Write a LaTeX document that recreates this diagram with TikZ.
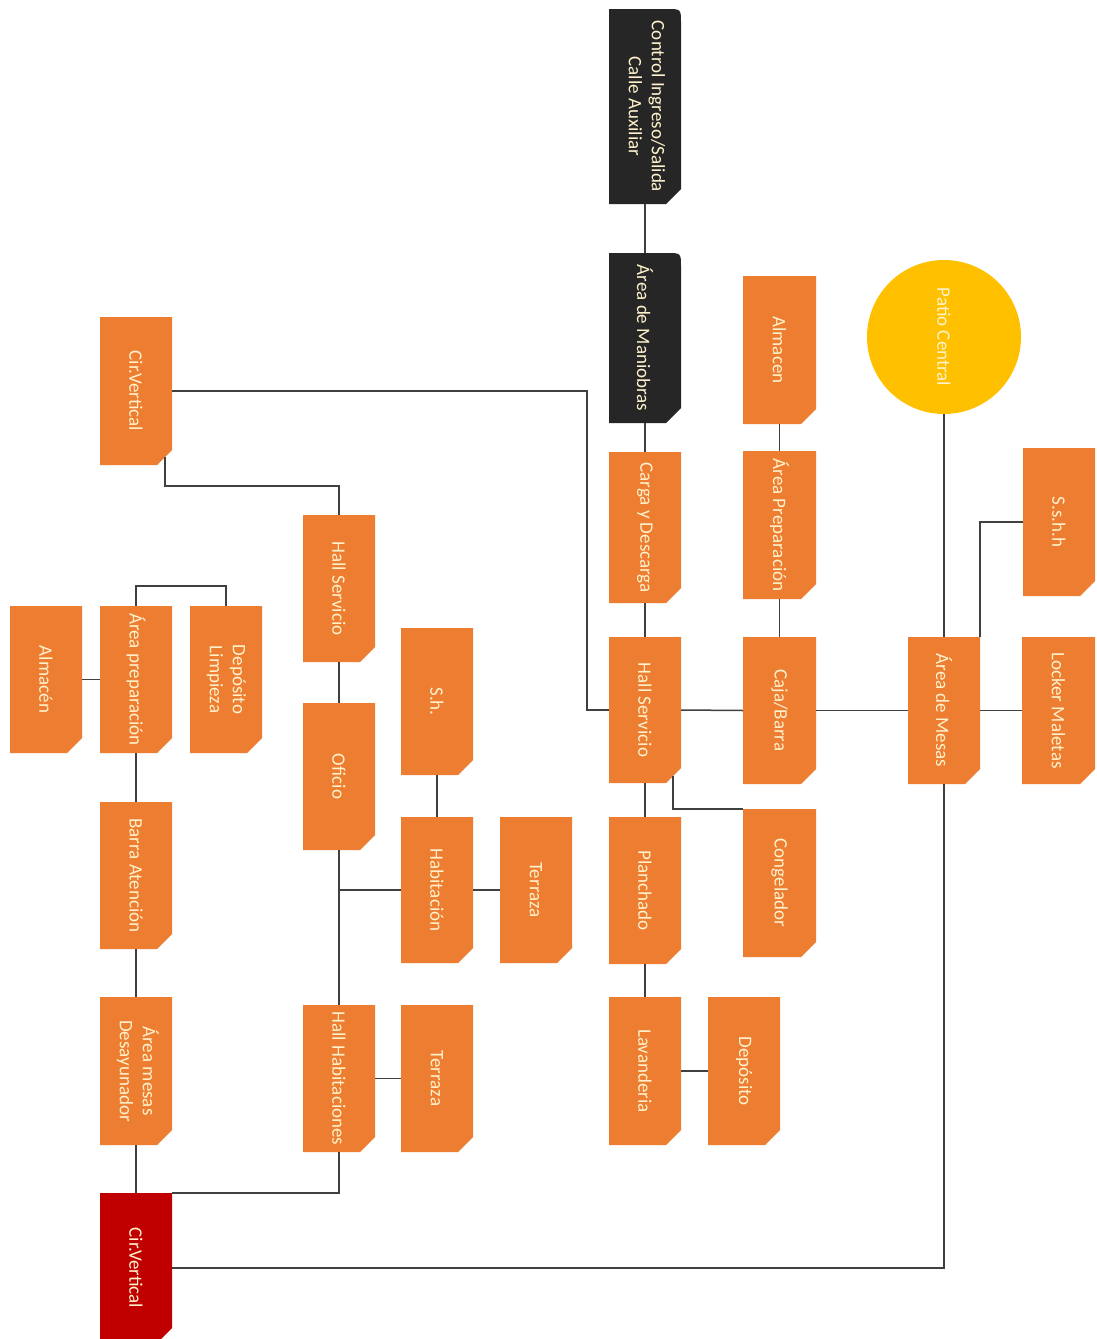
\documentclass[tikz,border=0pt]{standalone}
\usepackage{graphicx}
\usepackage{fontspec}
\setmainfont{Carlito}
\usetikzlibrary{fit,calc}
\definecolor{orng}{HTML}{ED7D31}
\definecolor{dark}{HTML}{262626}
\definecolor{redc}{HTML}{C00000}
\definecolor{yel}{HTML}{FFC000}
\definecolor{txt}{HTML}{FFF2CC}
\definecolor{lin}{HTML}{404040}
\tikzset{
  lbl/.style={inner sep=0pt, outer sep=0pt, text=txt, font=\fontsize{19}{23}\selectfont},
  conn/.style={draw=lin, line width=1.5pt},
}
% #1 fill, #2 name, #3 x1, #4 y1, #5 x2, #6 y2, #7 text
\newcommand\mkbox[7]{%
  \fill[#1] (#3,#4) -- (#5,#4) -- (#5,#6-15) -- (#5-15,#6) -- (#3,#6) -- cycle;
  \node[lbl, fit={(#3,#4) (#5,#6)}] (#2) {\rotatebox{-90}{#7}};
}
\newcommand\mkdark[7]{%
  \fill[#1] (#3,#4) -- (#5-14,#4) .. controls (#5,#4) .. (#5,#4+14) -- (#5,#6-15) -- (#5-15,#6) -- (#3,#6) -- cycle;
  \node[lbl, fit={(#3,#4) (#5,#6)}] (#2) {\rotatebox{-90}{#7}};
}
\newcommand\twol[2]{\begin{tabular}{@{}c@{}}#1\\#2\end{tabular}}
\begin{document}
\begin{tikzpicture}[x=1pt,y=-1pt]
\useasboundingbox (0,0) rectangle (1097,1339);
\clip (0,0) rectangle (1097,1339);
\fill[white] (0,0) rectangle (1097,1339);

% centre column
\mkdark{dark}{ctrl}{609}{9}{681}{204}{\twol{Control Ingreso/Salida}{Calle Auxiliar}}
\mkdark{dark}{manio}{609}{253}{681}{423}{Área de Maniobras}
\mkbox{orng}{carga}{609}{452}{681}{603}{Carga y Descarga}
\mkbox{orng}{hsc}{609}{637}{681}{783}{Hall Servicio}
\mkbox{orng}{planch}{609}{817}{681}{964}{Planchado}
\mkbox{orng}{lavan}{609}{997}{681}{1145}{Lavanderia}
\mkbox{orng}{depo}{708}{997}{780}{1145}{Depósito}

% right-centre column
\mkbox{orng}{alm2}{743}{276}{816}{424}{Almacen}
\mkbox{orng}{aprep2}{743}{451}{816}{599}{Área Preparación}
\mkbox{orng}{caja}{743}{637}{816}{784}{Caja/Barra}
\mkbox{orng}{cong}{743}{809}{816}{957}{Congelador}

% right
\node[circle, fill=yel, minimum size=154pt, inner sep=0pt, text=txt, font=\fontsize{19}{23}\selectfont] (patio) at (944,337) {\rotatebox{-90}{Patio Central}};
\mkbox{orng}{mesas}{908}{637}{980}{784}{Área de Mesas}
\mkbox{orng}{locker}{1022}{637}{1095}{784}{Locker Maletas}
\mkbox{orng}{sshh}{1023}{448}{1095}{596}{S.s.h.h}

% left-centre
\mkbox{orng}{cirv1}{100}{317}{172}{465}{Cir.Vertical}
\mkbox{orng}{hsl}{303}{515}{375}{662}{Hall Servicio}
\mkbox{orng}{oficio}{303}{703}{375}{850}{Oficio}
\mkbox{orng}{sh}{401}{628}{473}{775}{S.h.}
\mkbox{orng}{habit}{401}{817}{473}{963}{Habitación}
\mkbox{orng}{terr1}{500}{817}{572}{963}{Terraza}
\mkbox{orng}{hhab}{303}{1005}{375}{1152}{Hall Habitaciones}
\mkbox{orng}{terr2}{401}{1005}{473}{1152}{Terraza}

% left
\mkbox{orng}{almL}{10}{606}{82}{753}{Almacén}
\mkbox{orng}{aprepL}{100}{606}{172}{753}{Área preparación}
\mkbox{orng}{depL}{190}{606}{262}{753}{\twol{Depósito}{Limpieza}}
\mkbox{orng}{barra}{100}{802}{172}{949}{Barra Atención}
\mkbox{orng}{amesas}{100}{997}{172}{1145}{\twol{Área mesas}{Desayunador}}
\mkbox{redc}{cirv2}{100}{1193}{172}{1343}{Cir.Vertical}

% connectors
\draw[conn] (ctrl.south) -- (manio.north);
\draw[conn] (manio.south) -- (carga.north);
\draw[conn] (carga.south) -- (hsc.north);
\draw[conn] (hsc.south) -- (planch.north);
\draw[conn] (planch.south) -- (lavan.north);
\draw[conn] (lavan.east) -- (depo.west);
\draw[conn] (hsc.east) -- (caja.west);
\draw[conn] (caja.east) -- (mesas.west);
\draw[conn] (mesas.east) -- (locker.west);
\draw[conn] (alm2.south) -- (aprep2.north);
\draw[conn] (aprep2.south) -- (caja.north);
\draw[conn] (patio.south) -- (mesas.north);
\draw[conn] (sshh.west) -| (mesas.north east);
\draw[conn] ([shift={(-8pt,7pt)}]hsc.south east) |- (cong.north west);
\draw[conn] (cirv1.east) -| ([xshift=-22pt]hsc.west) -- (hsc.west);
\draw[conn] ([shift={(-7pt,8pt)}]cirv1.south east) |- ([yshift=29pt]hsl.north) -- (hsl.north);
\draw[conn] (hsl.south) -- (oficio.north);
\draw[conn] (oficio.south) -- (hhab.north);
\draw[conn] (habit.west) -- (habit.west -| oficio.south);
\draw[conn] (sh.south) -- (habit.north);
\draw[conn] (habit.east) -- (terr1.west);
\draw[conn] (hhab.east) -- (terr2.west);
\draw[conn] (hhab.south) |- (cirv2.north east);
\draw[conn] (mesas.south) |- (cirv2.east);
\draw[conn] (aprepL.west) -- (almL.east);
\draw[conn] (aprepL.north) -- ([yshift=20pt]aprepL.north) -| (depL.north);
\draw[conn] (aprepL.south) -- (barra.north);
\draw[conn] (barra.south) -- (amesas.north);
\draw[conn] (amesas.south) -- (cirv2.north);
\end{tikzpicture}
\end{document}
